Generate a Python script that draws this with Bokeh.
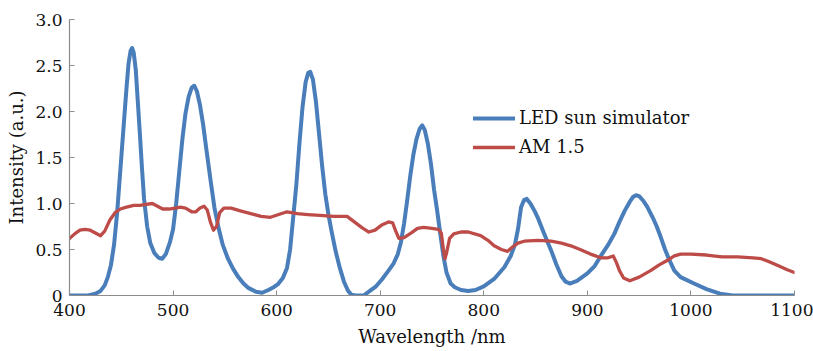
from bokeh.plotting import figure
from bokeh.models import Range1d, FixedTicker, Legend, LegendItem
from bokeh.embed import file_html
from bokeh.resources import INLINE

led_wl = [400, 418, 425, 430, 434, 437, 440, 443, 446, 449, 452, 455, 457, 459, 460.5, 462, 464, 466, 468, 470,
          472, 475, 478, 482, 486, 489.5, 493, 497, 500, 503, 506, 509, 512, 515, 518, 520.5, 523, 526, 529, 532,
          536, 540, 544, 548, 553, 558, 563, 568, 573, 580, 586, 592, 597, 601, 606, 610, 613, 616, 619, 622,
          625, 628, 630.5, 632.5, 635, 638, 641, 644, 647, 650, 653, 657, 661, 665, 669, 672, 676, 684, 690, 696,
          702, 708, 713, 717, 720, 723, 726, 729, 732, 735, 738, 740.5, 743, 746, 749, 752, 755, 758, 761, 764,
          768, 772, 778, 785, 792, 800, 810, 820, 826, 830, 833, 836, 839, 841.5, 845, 849, 852, 858, 865, 870,
          875, 879, 883, 890, 900, 907, 913, 920, 926, 931, 936, 941, 944, 947, 950, 954, 958, 963, 967, 971,
          975, 979, 984, 990, 1003, 1015, 1028, 1040, 1100]
led_int = [0, 0, 0.02, 0.05, 0.11, 0.2, 0.33, 0.55, 0.9, 1.35, 1.8, 2.25, 2.52, 2.66, 2.69, 2.64, 2.45, 2.1, 1.75, 1.38,
           1.05, 0.75, 0.57, 0.46, 0.41, 0.40, 0.45, 0.58, 0.72, 1.0, 1.35, 1.7, 1.98, 2.16, 2.26, 2.28, 2.22, 2.07, 1.86, 1.6,
           1.27, 0.95, 0.73, 0.55, 0.4, 0.29, 0.2, 0.13, 0.08, 0.04, 0.03, 0.06, 0.09, 0.12, 0.19, 0.3, 0.5, 0.85, 1.2, 1.65,
           2.05, 2.32, 2.42, 2.43, 2.35, 2.1, 1.75, 1.4, 1.1, 0.88, 0.7, 0.48, 0.3, 0.15, 0.05, 0.01, 0.0, 0.0, 0.05, 0.1,
           0.18, 0.27, 0.35, 0.45, 0.58, 0.78, 1.03, 1.3, 1.53, 1.7, 1.81, 1.85, 1.8, 1.65, 1.43, 1.15, 0.92, 0.67, 0.43, 0.25,
           0.13, 0.09, 0.06, 0.05, 0.06, 0.1, 0.18, 0.31, 0.43, 0.55, 0.72, 0.96, 1.04, 1.05, 1.0, 0.92, 0.85, 0.68, 0.49, 0.34,
           0.21, 0.15, 0.13, 0.16, 0.24, 0.32, 0.43, 0.55, 0.67, 0.8, 0.92, 1.02, 1.07, 1.09, 1.08, 1.03, 0.96, 0.85, 0.75, 0.63,
           0.5, 0.39, 0.27, 0.2, 0.13, 0.07, 0.02, 0.0, 0.0]

am_wl = [400, 405, 410, 415, 420, 425, 430, 434, 439, 444, 449, 455, 462, 468, 474, 480, 485, 490, 496, 502,
         507, 512, 518, 522, 526, 530, 533, 536, 539, 542, 545, 549, 556, 565, 575, 585, 594, 602, 610, 620,
         630, 642, 655, 668, 675, 682, 689, 695, 702, 708, 712, 715, 718, 723, 730, 736, 742, 750, 756, 759,
         761, 762.5, 764, 767, 771, 778, 785, 797, 804, 810, 817, 823, 828, 833, 839, 852, 865, 875, 884, 893,
         903, 913, 920, 925, 928, 931, 935, 941, 950, 961, 969, 977, 984, 990, 1000, 1015, 1030, 1045, 1060, 1068,
         1075, 1085, 1093, 1100]
am_int = [0.62, 0.67, 0.71, 0.72, 0.71, 0.68, 0.65, 0.7, 0.82, 0.9, 0.94, 0.96, 0.98, 0.98, 0.99, 1.0, 0.97, 0.94, 0.94, 0.95,
          0.96, 0.95, 0.91, 0.91, 0.95, 0.97, 0.93, 0.8, 0.71, 0.75, 0.9, 0.95, 0.95, 0.92, 0.89, 0.86, 0.85, 0.88, 0.91, 0.89,
          0.88, 0.87, 0.86, 0.86, 0.8, 0.74, 0.69, 0.71, 0.77, 0.8, 0.79, 0.7, 0.62, 0.63, 0.68, 0.73, 0.74, 0.73, 0.72, 0.68,
          0.5, 0.4, 0.46, 0.62, 0.67, 0.69, 0.69, 0.65, 0.6, 0.54, 0.5, 0.48, 0.53, 0.57, 0.59, 0.6, 0.59, 0.57, 0.54, 0.5,
          0.45, 0.41, 0.41, 0.43, 0.36, 0.27, 0.19, 0.16, 0.2, 0.27, 0.33, 0.38, 0.43, 0.45, 0.45, 0.44, 0.42, 0.42, 0.41, 0.4,
          0.37, 0.32, 0.28, 0.25]

x_ticks = [400, 500, 600, 700, 800, 900, 1000, 1100]
y_ticks = [0, 0.5, 1.0, 1.5, 2.0, 2.5, 3.0]
y_tick_labels = {0: "0", 0.5: "0.5", 1: "1.0", 1.5: "1.5", 2: "2.0", 2.5: "2.5", 3: "3.0"}
series_names = ["LED sun simulator", "AM 1.5"]

FONT = "DejaVu Serif"
BLUE = "#4A7EBB"
RED = "#BD4B48"

p = figure(width=813, height=351, output_backend="svg", toolbar_location=None,
           x_range=Range1d(400, 1100), y_range=Range1d(0, 3.0),
           min_border_left=69, min_border_right=19, min_border_top=19, min_border_bottom=56)
p.outline_line_color = None
p.xgrid.visible = False
p.ygrid.visible = False
p.background_fill_color = "white"

r1 = p.line(led_wl, led_int, line_color=BLUE, line_width=4, line_join="round", line_cap="round")
r2 = p.line(am_wl, am_int, line_color=RED, line_width=3.3, line_join="round", line_cap="round")

for ax in (p.xaxis[0], p.yaxis[0]):
    ax.axis_line_color = "#8c8c8c"
    ax.axis_line_width = 1.2
    ax.major_tick_line_color = "#8c8c8c"
    ax.major_tick_in = 5
    ax.major_tick_out = 0
    ax.minor_tick_line_color = None
    ax.major_label_text_font = FONT
    ax.major_label_text_font_size = "17px"
    ax.major_label_text_color = "#111111"
    ax.axis_label_text_font = FONT
    ax.axis_label_text_font_size = "18px"
    ax.axis_label_text_font_style = "normal"
    ax.axis_label_text_color = "#111111"

p.xaxis.ticker = FixedTicker(ticks=x_ticks)
p.yaxis.ticker = FixedTicker(ticks=y_ticks)
p.yaxis.major_label_overrides = y_tick_labels
p.xaxis.major_label_standoff = 8
p.yaxis.major_label_standoff = 7
p.xaxis.axis_label = "Wavelength /nm"
p.yaxis.axis_label = "Intensity (a.u.)"
p.xaxis.axis_label_standoff = 7
p.yaxis.axis_label_standoff = 5

legend = Legend(items=[LegendItem(label=series_names[0], renderers=[r1]),
                       LegendItem(label=series_names[1], renderers=[r2])],
                location=(404, 138), orientation="vertical")
legend.border_line_color = None
legend.background_fill_alpha = 0
legend.padding = 0
legend.margin = 0
legend.spacing = 8
legend.glyph_width = 42
legend.glyph_height = 20
legend.label_height = 20
legend.label_standoff = 4
legend.label_text_font = FONT
legend.label_text_font_size = "18px"
legend.label_text_color = "#111111"
p.add_layout(legend, "center")

open("out.html", "w").write(file_html(p, INLINE))
